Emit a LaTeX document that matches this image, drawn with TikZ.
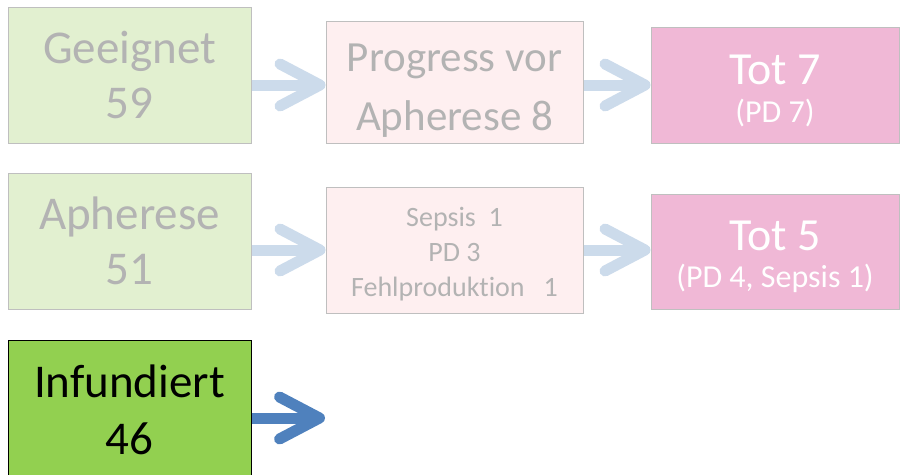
\documentclass[tikz,border=0pt]{standalone}
\usepackage{fontspec}
\setmainfont{Carlito}[Ligatures=NoCommon]
\usepackage{xcolor}
\usetikzlibrary{positioning, arrows.meta}

\definecolor{paleGreen}{HTML}{E2F0D0}
\definecolor{paleRose}{HTML}{FEEFF0}
\definecolor{deadPink}{HTML}{F0B8D6}
\definecolor{fadedText}{HTML}{B3B3B3}
\definecolor{fadedArrow}{HTML}{CCDBEB}
\definecolor{doneGreen}{HTML}{92D050}
\definecolor{doneArrow}{HTML}{4F81BD}

\begin{document}
\begin{tikzpicture}[
  x=1pt, y=1pt,
  faded/.style={rectangle, draw=black!25, line width=1pt, fill=paleGreen, text=fadedText,
    align=center, inner sep=0pt, font=\fontsize{47}{55}\selectfont},
  lost/.style={rectangle, draw=black!25, line width=1pt, fill=paleRose, text=fadedText,
    align=center, inner sep=0pt},
  dead/.style={rectangle, draw=black!25, line width=1pt, fill=deadPink, text=white,
    align=center, inner sep=0pt, font=\fontsize{46}{50}\selectfont},
  done/.style={rectangle, draw=black, line width=1pt, fill=doneGreen, text=black,
    align=center, inner sep=0pt, font=\fontsize{47}{57}\selectfont},
  flow/.style={line width=11pt, draw=fadedArrow, -{Straight Barb[length=40pt, width=42pt, round]}},
  flowdone/.style={flow, draw=doneArrow}
]
  \useasboundingbox (0,0) rectangle (901,-474);

  % Row 1: Geeignet
  \node[faded, minimum width=243pt, minimum height=136pt] (geeignet) at (129.5,-75) {Geeignet\\59};
  \node[lost, minimum width=257pt, minimum height=122pt, font=\fontsize{43}{59}\selectfont]
    (progress) at (454.5,-82) {\rule{0pt}{44pt}Progress vor\\Apherese 8};
  \node[dead, minimum width=248pt, minimum height=116pt] (tot7) at (775,-85)
    {\rule{0pt}{42pt}Tot 7\\[-12pt]{\fontsize{32}{34}\selectfont (PD 7)}};
  \draw[flow] (geeignet.east |- tot7) -- (progress.west |- tot7);
  \draw[flow] (progress.east |- tot7) -- (tot7.west);

  % Row 2: Apherese
  \node[faded, minimum width=243pt, minimum height=136pt] (apherese) at (129.5,-241) {Apherese\\51};
  \node[lost, minimum width=257pt, minimum height=126pt, font=\fontsize{28}{35}\selectfont]
    (ausfall) at (454.5,-250) {\rule{0pt}{27pt}Sepsis\ \ 1\\PD 3\\Fehlproduktion\ \ \ 1};
  \node[dead, minimum width=248pt, minimum height=115pt] (tot5) at (775,-251.5)
    {\rule{0pt}{41pt}Tot 5\\[-13pt]{\fontsize{32}{34}\selectfont (PD 4, Sepsis 1)}};
  \draw[flow] (apherese.east |- ausfall) -- (ausfall.west);
  \draw[flow] (ausfall.east) -- (tot5.west |- ausfall);

  % Row 3: Infundiert
  \node[done, minimum width=243pt, minimum height=140pt] (infundiert) at (129.5,-410) {Infundiert\\46};
  \coordinate (weiter) at (325,-418);
  \draw[flowdone] (infundiert.east |- weiter) -- (weiter);
\end{tikzpicture}
\end{document}
